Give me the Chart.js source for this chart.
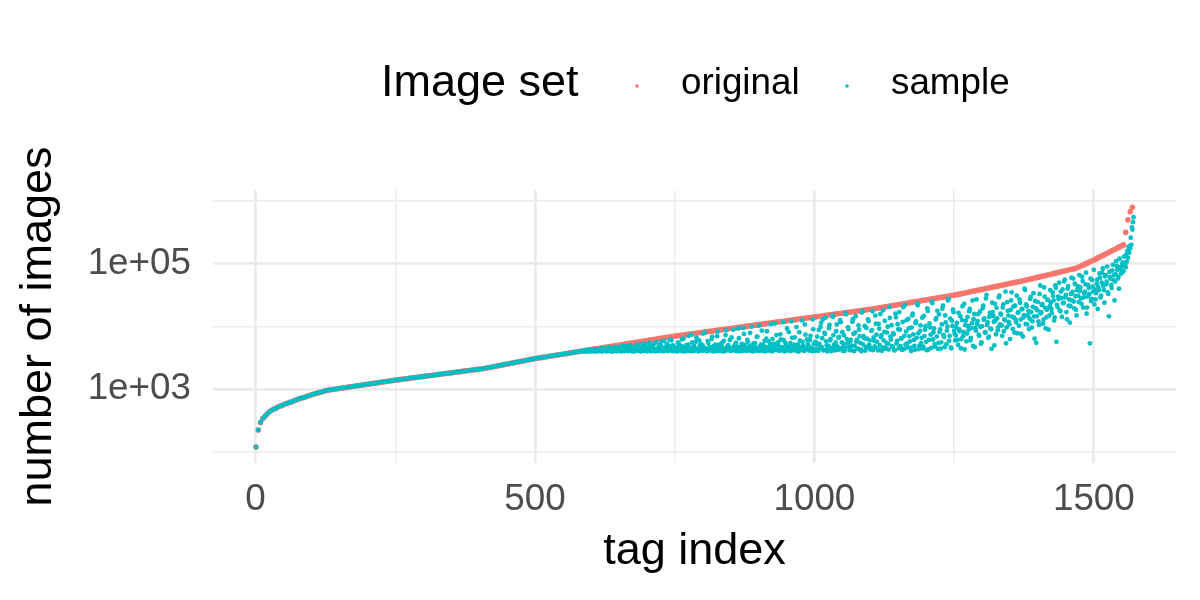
<!DOCTYPE html>
<html>
<head>
    <meta charset="utf-8">
    <title>Tag sizes: original vs sample</title>
    <script src="https://cdn.jsdelivr.net/npm/chart.js"></script>
    <style>
        html, body { margin: 0; padding: 0; background: #ffffff; }
        canvas { display: block; }
    </style>
</head>
<body>
    <canvas id="myChart" width="1200" height="600"></canvas>

    <script>
        // tag index of the first point and spacing between plotted tags
        var originalStart = 1, originalStep = 4;
        var sampleOddStart = 587, sampleEvenStart = 588, sampleStep = 2;
        // tags up to this index were kept whole in the sample (sample == original)
        var sharedUntil = 585;

        // number of images per tag in the original set (sorted)
        var originalCount = [
            120, 224, 295, 340, 372, 405, 436, 462, 484, 500, 525, 543, 562, 582, 596, 617, 631, 653, 676, 700,
            716, 733, 750, 776, 794, 822, 841, 861, 881, 902, 923, 944, 966,
            978, 990, 1002, 1014, 1027, 1039, 1052, 1065, 1078, 1091, 1105, 1118, 1132, 1146, 1160, 1174, 1189, 1203,
            1218, 1233, 1248, 1264, 1279, 1295, 1311, 1327, 1343, 1360, 1376, 1393,
            1408, 1423, 1439, 1454, 1470, 1486, 1502, 1518, 1535, 1551, 1568, 1585, 1602, 1620, 1637, 1655, 1673, 1691, 1709, 1728,
            1746, 1765, 1784, 1804, 1823, 1843, 1863, 1883, 1903, 1924, 1945, 1966, 1987, 2008, 2030, 2052, 2074, 2097, 2119, 2142,
            2176, 2211, 2247, 2283, 2320, 2357, 2395, 2434, 2473, 2513, 2553, 2594, 2636, 2679, 2722, 2766, 2810, 2855, 2901, 2948,
            2995, 3044, 3093,
            3134, 3175, 3217, 3259, 3302, 3346, 3390, 3435, 3480, 3526, 3572, 3620, 3667, 3716, 3765, 3814, 3865, 3916, 3967, 4020, 4073,
            4127, 4182, 4238, 4294, 4351, 4409, 4468, 4527, 4587, 4648, 4710, 4773, 4836, 4900, 4966, 5032, 5099, 5167, 5235, 5305,
            5376, 5447, 5520, 5593, 5667, 5743, 5819, 5897, 5975, 6055, 6135, 6217, 6299, 6383, 6468, 6554, 6641, 6730, 6819, 6910, 7002,
            7081, 7161, 7242, 7324, 7407, 7491, 7576, 7661, 7748, 7836, 7924, 8014, 8105, 8196, 8289, 8383, 8478, 8574, 8671, 8769,
            8868, 8968, 9069, 9172, 9276, 9381, 9487, 9594, 9703, 9813, 9924, 10036, 10150, 10265, 10381, 10498, 10617, 10737, 10859, 10982,
            11106, 11232, 11359, 11487, 11617, 11748, 11881, 12016, 12152, 12289, 12428, 12569, 12711, 12855, 13000, 13147, 13296, 13446, 13598, 13752,
            13908, 14065, 14224, 14385, 14548, 14712, 14879, 15047, 15217, 15389, 15563, 15739, 15917, 16097, 16279, 16463, 16649, 16838, 17028, 17221,
            17415, 17612, 17811, 18013, 18216, 18422, 18631, 18841,
            19104, 19371, 19642, 19916, 20194, 20476, 20762, 21052, 21346, 21644, 21947, 22253, 22564, 22879, 23199, 23523, 23852, 24185, 24523, 24865,
            25212, 25564, 25921, 26283, 26650, 27023, 27400, 27783, 28171, 28564, 28963, 29368, 29778, 30194, 30616, 31043, 31477, 31916,
            32472, 33038, 33613, 34198, 34794, 35400, 36017, 36644, 37282, 37931, 38592, 39264, 39948, 40644, 41352, 42072, 42805, 43550, 44309, 45081,
            45866, 46665, 47478, 48305, 49146, 50002, 50873, 51759, 52661, 53578, 54511, 55460,
            56553, 57667, 58803, 59961, 61142, 62347, 63575, 64827, 66104, 67407, 68735, 70089, 71469, 72877, 74313, 75777, 77270, 78792, 80344, 81927,
            83541, 85187,
            88535, 92014, 95630, 99388, 103294, 107354, 111573, 115958,
            120910, 126070, 131450, 137070, 142920, 149020, 155390, 162020, 168940, 176160, 183680, 191530, 199700,
            316000, 501000, 676000, 795000
        ];

        // number of images per tag in the sample, odd tags above sharedUntil
        var sampleCountOdd = [
            // tags 587 - 749
            4020, 4110, 4060, 3990, 4140, 4090, 4030, 4210, 4180, 4050, 4290, 4000, 4120, 4350, 4070, 4240, 4010, 4420, 4160, 4100,
            4480, 4040, 4330, 4190, 4560, 4080, 3990, 4270, 4630, 4130, 4050, 4400, 4230, 4760, 4020, 4150, 4510, 4090, 4880, 4310,
            4060, 4200, 4990, 4130, 4010, 4650, 4370, 4110, 5150, 4240, 4040, 4460, 4170, 5320, 4080, 4720, 4290, 4030, 4560, 5480,
            4190, 4100, 4860, 4350, 4020, 5650, 4250, 4600, 4140, 5050, 4060, 4430, 5900, 4200, 4790, 4090, 4320, 6150, 4530, 4130,
            4980, 4260,
            // tags 751 - 1001
            4150, 4620, 4030, 5300, 4380, 4090, 6200, 4720, 4210, 4000, 5020, 4460, 7100, 4130, 4290, 5580, 4060, 4850, 4170, 6600,
            4330, 4020, 4970, 5260, 4110, 7700, 4540, 4240, 4070, 5850, 4400, 4680, 4140, 6900, 4010, 4560, 5150, 4260, 8300, 4090,
            4790, 4350, 5500, 4180, 4050, 7300, 4620, 4900, 4230, 6100, 4110, 4440, 8900, 4300, 5350, 4040, 4710, 6500, 4190, 4520,
            4080, 9500, 5080, 4270, 4620, 5750, 4160, 7900, 4390, 4030, 5400, 4860, 4210, 6800, 4100, 10300, 4480, 5160, 4320, 4060,
            5900, 4740, 8400, 4150, 4580, 5250, 4020, 6300, 4410, 11200, 4940, 4240, 5600, 4120, 7500, 4690, 4330, 6050, 4070, 5050,
            9300, 4500, 4180, 5450, 12100, 4370, 4820, 6700, 4230, 4060, 5200, 8100, 4610, 4280, 5700, 4140, 10800, 4430, 6200, 4920,
            4200, 7100, 4560, 13000, 5330, 4090,
            // tags 1003 - 1251
            4400, 6900, 4100, 5300, 9800, 4700, 12900, 4250, 7600, 5800, 4030, 4900, 10600, 6300, 4500, 14200, 5100, 4150, 8400, 4800,
            6600, 4350, 11700, 5600, 4080, 7200, 4600, 15600, 5400, 9100, 4200, 6100, 4950, 13100, 4060, 8000, 5700, 4450, 10400, 7000,
            4300, 16700, 5200, 6500, 4120, 9500, 4750, 12200, 6000, 4550, 8700, 4220, 5900, 14900, 7400, 4380, 11000, 5050, 6800, 4100,
            18100, 8200, 4650, 5500, 9900, 4280, 13700, 6200, 4850, 7800, 4170, 16000, 5350, 10900, 4500, 8900, 6400, 4240, 20300, 7100,
            5150, 12600, 4620, 9300, 5800, 4070, 15000, 7500, 4900, 11300, 6600, 21800, 4350, 8500, 5450, 13800, 4780, 7000, 10100, 4200,
            17700, 6100, 9700, 4560, 23500, 8100, 5250, 12900, 6900, 4410, 15600, 9000, 5600, 19200, 7300, 4680, 11600, 8600, 26000, 5900,
            13300, 4500, 10200, 16900, 7700,
            // tags 1253 - 1421
            7200, 11400, 5100, 9000, 14600, 6300, 21000, 8200, 4300, 12300, 7700, 10200, 17500, 6000, 9500, 26000, 13100, 4700, 8600, 11000,
            15700, 7100, 9900, 5600, 19500, 12800, 8000, 28000, 10600, 6600, 14200, 9200, 4400, 17000, 11900, 23000, 7500, 13500, 9700, 31000,
            16000, 10400, 20000, 8400, 12600, 5400, 24500, 14900, 10900, 18300, 35000, 9100, 13800, 21500, 11600, 7800, 16800, 27000, 12900, 19000,
            6900, 15100, 38000, 22500, 10800, 17600, 13300, 29500, 9600, 20500, 14400, 25500, 5500, 18100, 12000, 33000, 16200, 22000, 11100, 42000,
            19800, 14000, 26500, 8900, 21000,
            // tags 1423 - 1501
            24000, 16500, 31000, 12500, 45000, 5700, 20500, 27500, 18000, 36000, 14200, 23500, 52000, 29000, 17000, 40000, 21500, 11500, 33000, 26000,
            58000, 19500, 30500, 15000, 44000, 24500, 37000, 28000, 62000, 20000, 34000, 47000, 16000, 30000, 41000, 5400, 25500, 55000, 36000, 22500,
            // tags 1503 - 1571
            27000, 48000, 19000, 38000, 60000, 31000, 72000, 44000, 24000, 66000, 52000, 35000, 14500, 61000, 46000, 78000, 55000, 26000, 68000, 92000,
            58000, 40000, 82000, 70000, 100000, 76000,
            95000, 88000, 108000, 125000, 150000, 175000, 200000, 350000, 550000
        ];

        // number of images per tag in the sample, even tags above sharedUntil
        var sampleCountEven = [
            // tags 588 - 750
            4080, 4150, 4010, 4230, 4120, 4040, 4300, 4070, 4190, 4020, 4360, 4110, 4050, 4250, 4140, 4520, 4030, 4180, 4090, 4410,
            4060, 4280, 4640, 4130, 4000, 4340, 4210, 4100, 4720, 4050, 4160, 4450, 4070, 4280, 4830, 4120, 4040, 4590, 4200, 4100,
            4940, 4330, 4060, 4170, 4700, 4030, 4490, 4250, 5060, 4120, 4380, 4010, 4810, 4200, 4560, 5230, 4090, 4310, 4150, 4970,
            4040, 4680, 4240, 5400, 4110, 4420, 4060, 5100, 4350, 5750, 4180, 4020, 4610, 4270, 5300, 4080, 4900, 4150, 6000, 4370,
            4050, 4700,
            // tags 752 - 1002
            4250, 4070, 5600, 4430, 4180, 4900, 4020, 6400, 4310, 4560, 4100, 5150, 4680, 4040, 7400, 4220, 4800, 4130, 5700, 4370,
            4060, 6000, 4500, 4270, 4990, 4150, 8000, 4420, 4030, 5450, 4650, 4200, 6300, 4090, 4910, 4340, 4060, 7000, 4480, 5200,
            4120, 4770, 4010, 5900, 4390, 8700, 4180, 5050, 4600, 4070, 6700, 4260, 4830, 4140, 5550, 4420, 9300, 4030, 4700, 5300,
            4190, 7600, 4510, 4080, 6100, 4300, 4950, 4160, 10000, 4640, 4050, 5450, 4380, 6900, 4230, 4800, 4110, 8600, 5100, 4470,
            4020, 6400, 4290, 5800, 4150, 10900, 4560, 4070, 5300, 4350, 7300, 4210, 4880, 4100, 6200, 4600, 11700, 4030, 5500, 4420,
            4180, 8200, 4750, 4060, 6600, 4320, 5150, 4140, 9800, 4530, 4010, 5950, 4240, 12500, 4860, 4090, 7400, 4400, 5300, 4170,
            6100, 4610, 4050, 9000, 4330, 5700,
            // tags 1004 - 1252
            5200, 4300, 8800, 4600, 11400, 6500, 4150, 7900, 13800, 5000, 4400, 9400, 6000, 4050, 15200, 7300, 4750, 5600, 10800, 4250,
            6800, 12600, 4550, 8100, 5300, 4100, 16300, 6300, 9700, 4700, 5800, 4200, 11900, 7600, 4900, 14600, 6100, 4350, 8900, 5500,
            4050, 17600, 7000, 10200, 4650, 6400, 13000, 5100, 4300, 8500, 17500, 6700, 4800, 11100, 5700, 4150, 9200, 15800, 7200, 4550,
            6000, 12300, 4400, 8000, 5300, 20500, 6900, 10500, 4700, 7500, 4200, 14000, 5900, 9000, 17000, 4850, 6500, 11800, 4350, 22000,
            8300, 5400, 13200, 7000, 4600, 9600, 16000, 6100, 4250, 12000, 23500, 7800, 5000, 10400, 6600, 4500, 14800, 8900, 5700, 19500,
            4300, 11200, 7400, 25000, 6200, 9300, 4800, 13600, 17800, 5500, 8200, 4450, 10800, 21500, 6800, 15000, 5200, 9900, 27500, 7100,
            4600, 12400, 18500, 8600, 6000,
            // tags 1254 - 1422
            9800, 6100, 16500, 8400, 4500, 12700, 7000, 23000, 10500, 5800, 14100, 8900, 19000, 6600, 11300, 4900, 15800, 9400, 27000, 12200,
            7400, 17200, 5300, 10100, 21500, 13400, 8100, 32000, 11600, 6900, 16400, 9000, 24000, 14700, 5000, 12400, 19800, 8700, 29000, 10800,
            15500, 7100, 22500, 13000, 36000, 9700, 17800, 11800, 6300, 26000, 14300, 20800, 8000, 12900, 31000, 16600, 10300, 23800, 7600, 18900,
            13900, 40000, 11000, 21000, 15000, 9100, 27500, 17000, 12100, 34000, 6400, 19600, 14600, 24500, 10600, 45000, 16900, 22800, 12800, 30000,
            9300, 18400, 26500, 14900, 38000,
            // tags 1424 - 1502
            19000, 35000, 26000, 14000, 41000, 22000, 30000, 50000, 17500, 28500, 39000, 24000, 56000, 32000, 13000, 44000, 27000, 21000, 60000, 35500,
            25000, 48000, 18500, 38000, 31000, 66000, 42000, 23000, 53000, 29000, 36000, 72000, 20000, 46000, 33000, 58000, 27500, 43000, 80000, 39000,
            // tags 1504 - 1570
            34000, 56000, 42000, 70000, 29000, 50000, 84000, 38000, 63000, 47000, 90000, 33000, 74000, 58000, 41000, 96000, 66000, 52000, 110000, 80000,
            62000, 120000, 88000, 72000, 105000, 130000, 98000, 140000, 160000, 185000, 190000, 260000, 380000, 460000
        ];

        var xTicks = [0, 250, 500, 750, 1000, 1250, 1500];
        var xLabels = [0, 500, 1000, 1500];
        var yTicks = [100, 1000, 10000, 100000, 1000000];
        var yLabels = { 1000: '1e+03', 100000: '1e+05' };

        var seriesNames = ['original', 'sample'];
        var seriesColors = ['#F8766D', '#00BFC4'];
        var legendTitle = 'Image set';
        var FONT = '"Liberation Sans", Arial, Helvetica, sans-serif';

        // build point lists
        var originalPoints = [];
        for (var i = 0; i < originalCount.length; i++) {
            originalPoints.push({ x: originalStart + i * originalStep, y: originalCount[i] });
        }
        var samplePoints = [];
        for (var i = 0; i < originalPoints.length; i++) {
            if (originalPoints[i].x <= sharedUntil) samplePoints.push(originalPoints[i]);
        }
        for (var i = 0; i < sampleCountOdd.length; i++) {
            samplePoints.push({ x: sampleOddStart + i * sampleStep, y: sampleCountOdd[i] });
        }
        for (var i = 0; i < sampleCountEven.length; i++) {
            samplePoints.push({ x: sampleEvenStart + i * sampleStep, y: sampleCountEven[i] });
        }

        // legend drawn ggplot style: title and keys on one row
        var ggLegend = {
            id: 'ggLegend',
            afterDraw: function (chart) {
                var c = chart.ctx;
                c.save();
                c.textBaseline = 'middle';
                c.textAlign = 'left';
                c.fillStyle = '#000000';
                c.font = '45px ' + FONT;
                c.fillText(legendTitle, 381, 84);
                var keyX = [637, 847];
                var textX = [681, 891];
                c.font = '36.8px ' + FONT;
                for (var k = 0; k < seriesNames.length; k++) {
                    c.fillStyle = seriesColors[k];
                    c.beginPath();
                    c.arc(keyX[k], 86, 1.8, 0, Math.PI * 2);
                    c.fill();
                    c.fillStyle = '#000000';
                    c.fillText(seriesNames[k], textX[k], 84);
                }
                c.restore();
            }
        };

        var ctx = document.getElementById('myChart').getContext('2d');
        window.myChart = new Chart(ctx, {
            type: 'scatter',
            data: {
                datasets: [{
                    label: seriesNames[0],
                    data: originalPoints,
                    pointBackgroundColor: seriesColors[0],
                    pointBorderWidth: 0,
                    pointRadius: 2.8,
                    order: 2
                }, {
                    label: seriesNames[1],
                    data: samplePoints,
                    pointBackgroundColor: seriesColors[1],
                    pointBorderWidth: 0,
                    pointRadius: 2.4,
                    order: 1
                }]
            },
            options: {
                responsive: false,
                animation: false,
                devicePixelRatio: 1,
                layout: { padding: { top: 190, right: 24, bottom: 0, left: 0 } },
                plugins: {
                    legend: { display: false },
                    tooltip: { enabled: false }
                },
                scales: {
                    x: {
                        type: 'linear',
                        min: -76,
                        max: 1647,
                        afterBuildTicks: function (s) {
                            s.ticks = xTicks.map(function (v) { return { value: v }; });
                        },
                        afterFit: function (s) { s.height = 137; },
                        border: { display: false },
                        grid: {
                            color: '#EBEBEB',
                            drawTicks: false,
                            lineWidth: function (c) {
                                return c.tick && xLabels.indexOf(c.tick.value) >= 0 ? 2.8 : 1.4;
                            }
                        },
                        ticks: {
                            autoSkip: false,
                            maxRotation: 0,
                            padding: 15,
                            color: '#4D4D4D',
                            font: { family: FONT, size: 36.8, lineHeight: 1.2 },
                            callback: function (v) { return xLabels.indexOf(v) >= 0 ? String(v) : ''; }
                        },
                        title: {
                            display: true,
                            text: 'tag index',
                            color: '#000000',
                            font: { family: FONT, size: 45, lineHeight: 1.2 },
                            padding: { top: 0, bottom: 21 }
                        }
                    },
                    y: {
                        type: 'logarithmic',
                        min: 66.8,
                        max: 1496000,
                        afterBuildTicks: function (s) {
                            s.ticks = yTicks.map(function (v) { return { value: v }; });
                        },
                        afterFit: function (s) { s.width = 213; },
                        border: { display: false },
                        grid: {
                            color: '#EBEBEB',
                            drawTicks: false,
                            lineWidth: function (c) {
                                return c.tick && yLabels[c.tick.value] ? 2.8 : 1.4;
                            }
                        },
                        ticks: {
                            autoSkip: false,
                            padding: 22,
                            color: '#4D4D4D',
                            font: { family: FONT, size: 36.8, lineHeight: 1.2 },
                            callback: function (v) { return yLabels[v] || ''; }
                        },
                        title: {
                            display: true,
                            text: 'number of images',
                            color: '#000000',
                            font: { family: FONT, size: 45, lineHeight: 1.2 },
                            padding: { top: 12, bottom: 0 }
                        }
                    }
                }
            },
            plugins: [ggLegend]
        });
    </script>
</body>
</html>
